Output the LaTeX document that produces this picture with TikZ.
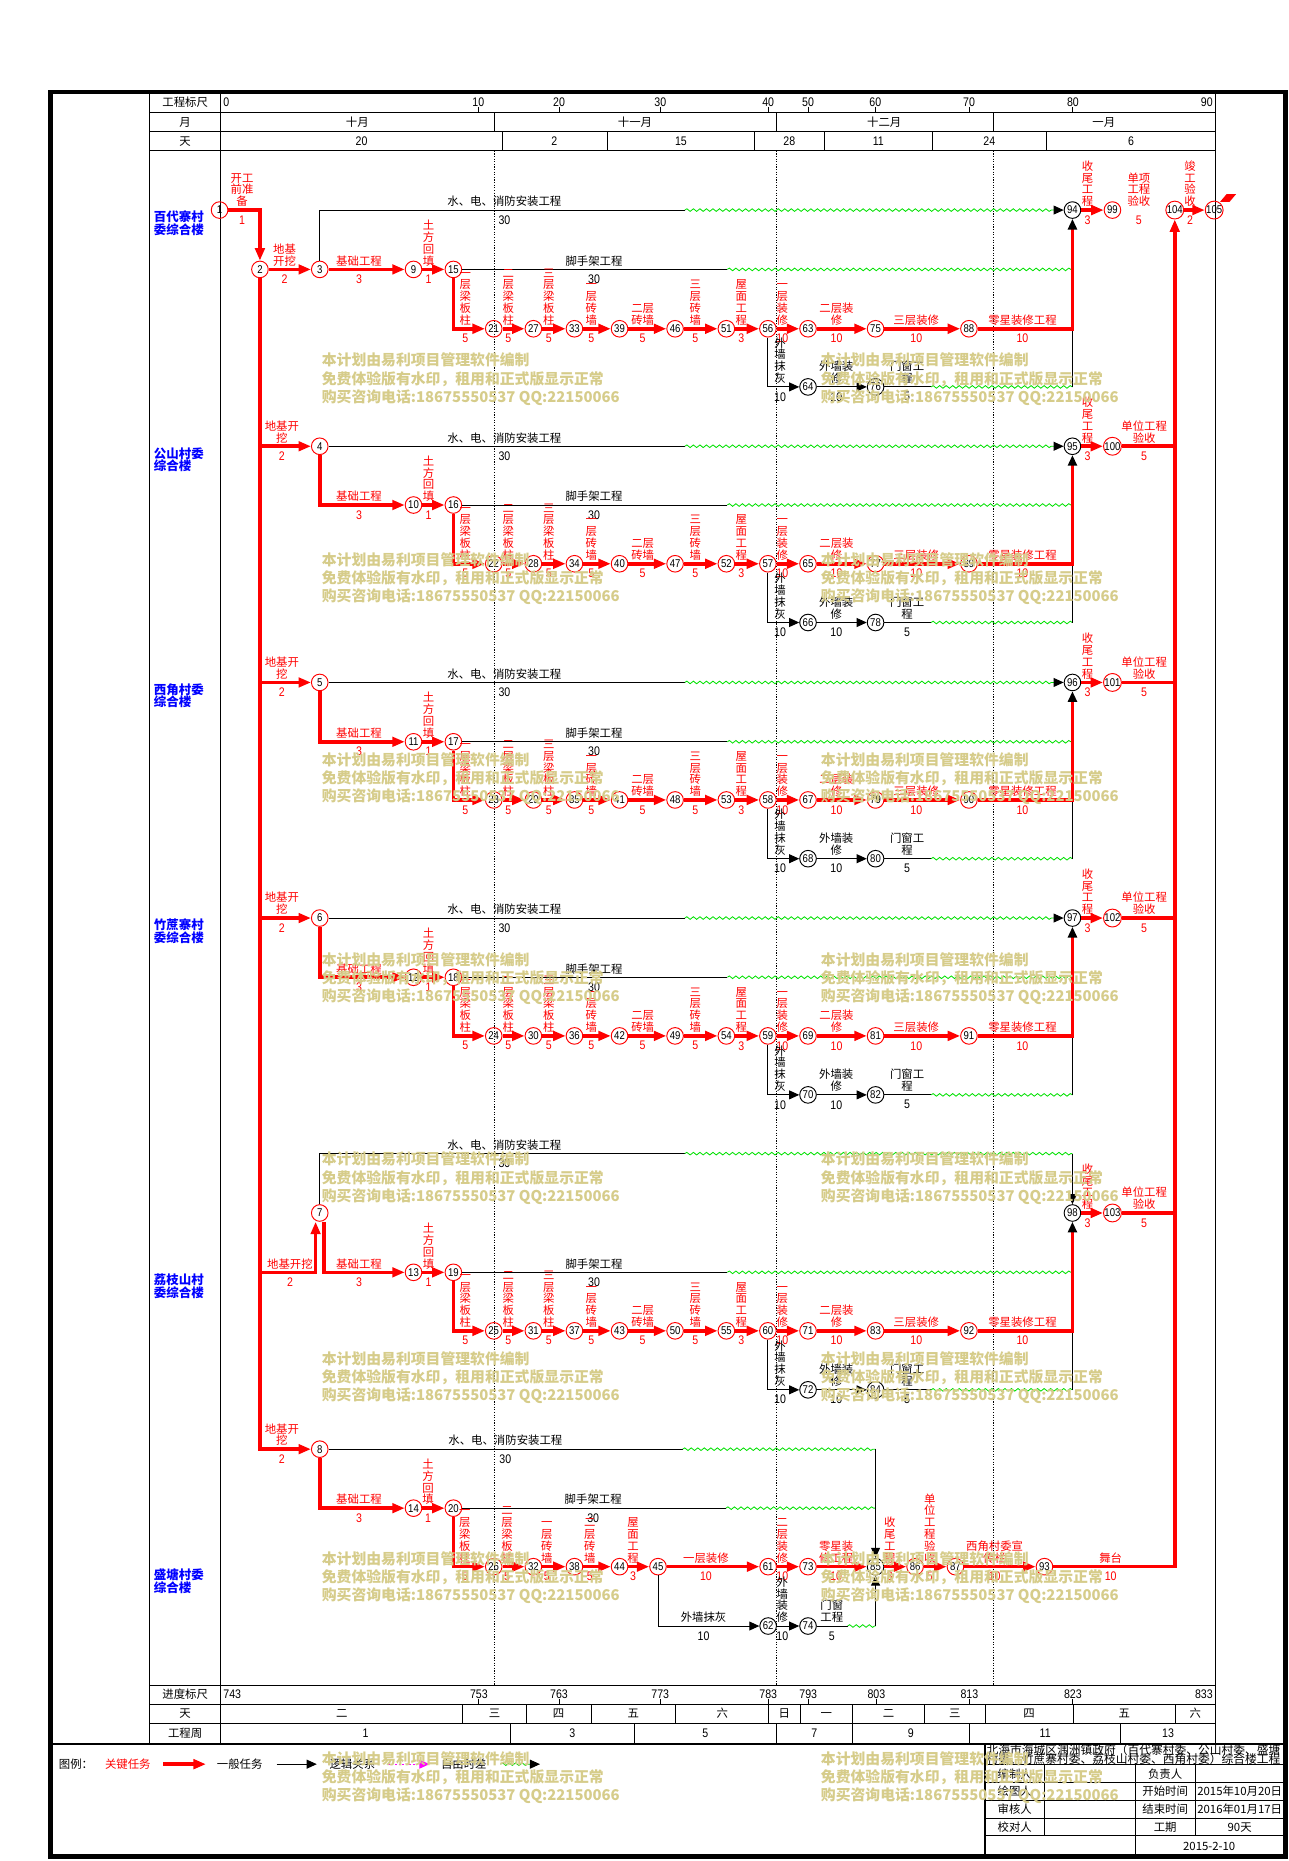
\documentclass[tikz,border=0pt]{standalone}
\usepackage{fontspec}
\setmainfont{Noto Sans CJK SC}
\newfontfamily\nrw[FakeStretch=0.85]{Liberation Sans}
\usetikzlibrary{arrows.meta,decorations.pathmorphing}
\definecolor{keyred}{RGB}{255,0,0}
\definecolor{slackgreen}{RGB}{0,225,0}
\definecolor{grpblue}{RGB}{0,0,255}
\definecolor{linkmag}{RGB}{255,0,255}
\definecolor{wmyellow}{RGB}{214,204,138}

\newcommand\labfont{\fontsize{9.6}{10}\selectfont}
\newcommand\durfont{\nrw\fontsize{10.5}{10.5}\selectfont}
\newcommand\nodefont{\nrw\fontsize{9.5}{9.5}\selectfont}

\tikzset{
  keynode/.style={circle,draw=keyred,line width=0.8pt,minimum size=14pt,inner sep=0pt,font=\nodefont},
  plainnode/.style={keynode,draw=black},
  keytask/.style={draw=keyred,line width=3pt,-{Triangle[length=10.5pt,width=8pt]}},
  keyline/.style={draw=keyred,line width=3pt},
  keyup/.style={keyline,-{Triangle[length=9pt,width=7.5pt,color=black]}},
  task/.style={draw=black,line width=0.85pt,-{Triangle[length=8.5pt,width=7.5pt]}},
  link/.style={draw=black,line width=0.85pt},
  slack/.style={draw=slackgreen,line width=0.7pt,decorate,decoration={snake,amplitude=1.1pt,segment length=5.5pt}},
  lab/.style={inner sep=0pt,text height=8.45pt,text depth=1.15pt,font=\labfont,text=keyred},
  dur/.style={inner sep=0pt,font=\durfont,text=keyred},
  hdr/.style={inner sep=0pt,text height=8.45pt,text depth=1.15pt,font=\labfont},
  hnum/.style={inner sep=0pt,font=\durfont},
  gline/.style={line width=0.8pt},
  bldg/.style={anchor=west,inner sep=0pt,text height=9.2pt,text depth=1.3pt,text=grpblue,font=\bfseries\fontsize{10.5}{10.5}\selectfont},
  wmtext/.style={anchor=west,inner sep=0pt,text height=11pt,text depth=1.5pt,text=wmyellow,font=\bfseries\fontsize{12.5}{12.5}\selectfont},
}

% task label: one node per line, last line just above the arrow
\newcommand\vlab[6][keyred]{%
  \edef\vlablist{#6}%
  \foreach \vch [count=\vk] in \vlablist
    {\node[lab,text=#1] (#2-\vk) at (#3,{#4-7.2-10*(#5-\vk)}) {\vch};}}

\newcommand\wmark[3]{%
  \node[wmtext] (#1a) at (#2,#3) {本计划由易利项目管理软件编制};
  \node[wmtext] (#1b) at (#2,{#3+15.3}) {免费体验版有水印，租用和正式版显示正常};
  \node[wmtext] (#1c) at (#2,{#3+30.6}) {购买咨询电话:18675550537 QQ:22150066};}

\begin{document}
\begin{tikzpicture}[x=1pt,y=-1pt]
  \useasboundingbox (0,0) rectangle (1086,1568);
  \fill[white] (0,0) rectangle (1086,1568);

  % frame and scales
  \draw[line width=4pt] (42.5,77.5) rectangle (1083,1564.5);
  \draw[gline] (126.3,77.5) -- (126.3,1469.3) (186,77.5) -- (186,1469.3) (1024,77.5) -- (1024,1469.3);
  \foreach \y in {94.6,110.9,127,1419.8,1435.8,1451.9} \draw[gline] (126.3,\y) -- (1024,\y);
  \draw[line width=1.6pt] (42.5,1469.3) -- (1083,1469.3);

  \node[hdr] (h1) at (156,85.7) {工程标尺};
  \node[hdr] (h2) at (156,102.7) {月};
  \node[hdr] (h3) at (156,118.9) {天};
  \node[hnum,anchor=west] (s0) at (188,85.7) {0};
  \foreach \x/\val in {403/10,471/20,556.3/30,647.2/40,680.8/50,737.5/60,816.5/70,904/80}
     {\draw[gline] (\x,90) -- (\x,94.6); \node[hnum] (s\val) at (\x,85.7) {\val};}
  \node[hnum,anchor=east] (s90) at (1022,85.7) {90};
  \foreach \x in {416.9,654,837} \draw[gline] (\x,94.6) -- (\x,110.9);
  \foreach \x/\mo [count=\i] in {301/十月,535/十一月,745/十二月,930/一月} \node[hdr] (m\i) at (\x,102.7) {\mo};
  \foreach \x in {423.2,511.5,635.8,694.5,785.5,881.6} \draw[gline] (\x,110.9) -- (\x,127);
  \foreach \x/\val in {304.6/20,467/2,573.7/15,665/28,740/11,833.5/24,953/6} \node[hnum] (dh\val) at (\x,118.9) {\val};

  \foreach \x in {416.9,654,837} \draw[line width=0.6pt,dash pattern=on 1pt off 1.2pt] (\x,127) -- (\x,1419.8);

  \node[hdr] (b1) at (156,1427.8) {进度标尺};
  \node[hdr] (b2) at (156,1443.8) {天};
  \node[hdr] (b3) at (156,1460.6) {工程周};
  \node[hnum,anchor=west] (p743) at (188,1427.2) {743};
  \foreach \x/\val in {403.5/753,471/763,556.3/773,647.3/783,681/793,738.4/803,816.8/813,904/823}
     {\draw[gline] (\x,1431.6) -- (\x,1435.8); \node[hnum] (p\val) at (\x,1427.2) {\val};}
  \node[hnum,anchor=east] (p833) at (1022,1427.2) {833};
  \foreach \x in {389.8,443.4,498,569.5,647.6,674.2,718.2,779,830,904.3,990.4} \draw[gline] (\x,1435.8) -- (\x,1451.9);
  \foreach \x/\mo [count=\i] in {288/二,416.6/三,470.7/四,533.7/五,608.5/六,660.9/日,696.2/一,748.6/二,804.5/三,867.1/四,947.3/五,1007.2/六}
     \node[hdr] (wd\i) at (\x,1443.8) {\mo};
  \foreach \x in {430,534.4,654,718.2,816.8,944.4} \draw[gline] (\x,1451.9) -- (\x,1469.3);
  \foreach \x/\val in {308/1,482.2/3,594.2/5,686.1/7,767.5/9,880.6/11,984.2/13} \node[hnum] (wk\val) at (\x,1460.6) {\val};

  % building names
  \foreach \y/\ta/\tb [count=\i] in {183/百代寨村/委综合楼,382/公山村委/综合楼,581/西角村委/综合楼,779.5/竹蔗寨村/委综合楼,1078.4/荔枝山村/委综合楼,1327/盛塘村委/综合楼}
     {\node[bldg] (bn\i-a) at (129.5,\y) {\ta}; \node[bldg] (bn\i-b) at (129.5,\y+10.5) {\tb};}

  % start and finish
  \node[keynode] (n1) at (185,177) {1};
  \node[keynode] (n2) at (219,227) {2};
  \node[keynode] (n3) at (269.4,227) {3};
  \node[keynode] (n104) at (989.8,177) {104};
  \node[keynode] (n105) at (1023,177) {105};
  \draw[keytask] (n1) -| (n2);
  \draw[keytask] (n2) -- (n3);
  \draw[keytask] (n104) -- (n105);
  \fill[keyred] (1028,170) -- (1036,170) -- (1041.5,163.5) -- (1033.5,163.5) -- cycle;
  \vlab{t1s}{204}{177}{3}{开工,前准,备}
  \node[dur] (d1s) at (204,185.3) {1};
  \vlab{t1e}{239.8}{227}{2}{地基,开挖}
  \node[dur] (d1e) at (239.8,235.3) {2};
  \vlab{t1v}{1002.6}{177}{4}{竣,工,验,收}
  \node[dur] (d1v) at (1002.6,185.3) {2};

  % five buildings with the same chain
  \foreach \g/\yw/\yt/\yb/\yc/\yd in {1/177/177/227/277/326,2/376/376/425.5/475/524.5,3/575/575/625/674/723.5,4/773.5/773.5/823.4/872.8/922.5,5/972/1022/1072/1121.3/1171}
  {
    \pgfmathtruncatemacro\nB{8+\g}
    \pgfmathtruncatemacro\nF{14+\g}
    \pgfmathtruncatemacro\nC{20+\g}
    \pgfmathtruncatemacro\nM{55+\g}
    \pgfmathtruncatemacro\nW{62+2*\g}
    \pgfmathtruncatemacro\nX{74+2*\g}
    \pgfmathtruncatemacro\nZ{87+\g}
    \pgfmathtruncatemacro\nT{93+\g}
    \pgfmathtruncatemacro\nU{98+\g}
    \node[keynode] (n\nB) at (348.4,\yb) {\nB};
    \node[keynode] (n\nF) at (382,\yb) {\nF};
    \draw[keytask] (n\nB) -- (n\nF);
    \foreach \k/\x/\base/\m in {1/416/20/1,2/449.4/26/1,3/484/32/1,4/522/38/1,5/568.8/45/1,6/612/50/1,7/647/55/1,8/680.8/61/2,9/737.7/73/2,10/816.4/87/1}
       {\pgfmathtruncatemacro\nn{\base+\m*\g}
        \node[keynode] (n\nn) at (\x,\yc) {\nn};
        \ifnum\k>1 \draw[keytask] (n\prevnode) -- (n\nn);\fi
        \global\let\prevnode\nn}
    \draw[keytask] (n\nF) |- (n\nC);
    \node[plainnode] (n\nW) at (680.8,\yd) {\nW};
    \node[plainnode] (n\nX) at (737.7,\yd) {\nX};
    \node[plainnode] (n\nT) at (903.6,\yt) {\nT};
    \node[keynode] (n\nU) at (937.3,\yt) {\nU};
    \draw[task] (n\nM) |- (n\nW);
    \draw[task] (n\nW) -- (n\nX);
    \coordinate (xa\g) at (784.5,\yd);
    \coordinate (xb\g) at (903.6,\yd);
    \coordinate (xc\g) at (903.6,\yc);
    \draw[link] (n\nX) -- (xa\g);
    \draw[slack] (xa\g) -- (xb\g);
    \draw[link] (xb\g) -- (xc\g);
    \coordinate (ya\g) at (612.8,\yb);
    \coordinate (yb\g) at (903.6,\yb);
    \draw[link] (n\nF) -- (ya\g);
    \draw[slack] (ya\g) -- (yb\g);
    \draw[keyup] (n\nZ) -| (n\nT);
    \draw[keytask] (n\nT) -- (n\nU);
    \ifnum\g>1 \draw[keyline] (n\nU) -- (n104 |- n\nU);\fi
    \vlab{tla\g}{302.5}{\yb}{1}{基础工程}
    \node[dur] (dua\g) at (302.5,\yb+8.3) {3};
    \vlab{tlb\g}{361}{\yb}{4}{土,方,回,填}
    \node[dur] (dub\g) at (361,\yb+8.3) {1};
    \vlab[black]{tlc\g}{500.5}{\yb}{1}{脚手架工程}
    \node[dur,text=black] (duc\g) at (500.5,\yb+8.3) {30};
    \vlab[black]{tld\g}{425}{\yw}{1}{水、电、消防安装工程}
    \node[dur,text=black] (dud\g) at (425,\yw+8.3) {30};
    \vlab{tle\g}{916.4}{\yt}{4}{收,尾,工,程}
    \node[dur] (due\g) at (916.4,\yt+8.3) {3};
    \ifnum\g=1
      \vlab{tlf\g}{959.6}{\yt}{3}{单项,工程,验收}
      \node[dur] (duf\g) at (959.6,\yt+8.3) {5};
    \else
      \vlab{tlf\g}{964}{\yt}{2}{单位工程,验收}
      \node[dur] (duf\g) at (964,\yt+8.3) {5};
    \fi
    \foreach \j/\x/\nln/\txt/\dr in {0/392/5/{一,层,梁,板,柱}/5,1/428.2/5/{二,层,梁,板,柱}/5,2/462.4/5/{三,层,梁,板,柱}/5,3/498.2/4/{一,层,砖,墙}/5,4/541.5/2/{二层,砖墙}/5,5/585.8/4/{三,层,砖,墙}/5,6/624.7/4/{屋,面,工,程}/3,7/659.2/4/{一,层,装,修}/10,8/704.8/2/{二层装,修}/10,9/772/1/{三层装修}/10,10/861.5/1/{零星装修工程}/10}
       {\vlab{tc\g-\j}{\x}{\yc}{\nln}{\txt}
        \node[dur] (duc\g-\j) at (\x,\yc+8.3) {\dr};}
    \foreach \j/\x/\nln/\txt/\dr in {0/657.3/4/{外,墙,抹,灰}/10,1/704.6/2/{外墙装,修}/10,2/764.3/2/{门窗工,程}/5}
       {\vlab[black]{td\g-\j}{\x}{\yd}{\nln}{\txt}
        \node[dur,text=black] (dud\g-\j) at (\x,\yd+8.3) {\dr};}
  }

  % foundations of the buildings
  \draw[keytask] (n3) -- (n9);
  \coordinate (za3) at (577,177);
  \coordinate (zb3) at (888,177);
  \draw[link] (n3) |- (za3);
  \draw[slack] (za3) -- (zb3);
  \draw[task] (zb3) -- (n94);
  \foreach \na/\y in {4/376,5/575,6/773.5}
  {
    \pgfmathtruncatemacro\nB{\na+6}
    \pgfmathtruncatemacro\nT{\na+91}
    \node[keynode] (n\na) at (269.4,\y) {\na};
    \coordinate (j\na) at (n2 |- n\na);
    \draw[keytask] (j\na) -- (n\na);
    \draw[keytask] (n\na) |- (n\nB);
    \coordinate (za\na) at (577,\y);
    \coordinate (zb\na) at (888,\y);
    \draw[link] (n\na) -- (za\na);
    \draw[slack] (za\na) -- (zb\na);
    \draw[task] (zb\na) -- (n\nT);
    \vlab{tlg\na}{237.5}{\y}{2}{地基开,挖}
    \node[dur] (dug\na) at (237.5,\y+8.3) {2};
  }
  \node[keynode] (n7) at (269.4,1022) {7};
  \coordinate (j7) at (n2 |- n13);
  \draw[keytask] (j7) -| ([xshift=-3.5pt]n7.south);
  \draw[keytask] ([xshift=3.5pt]n7.south) |- (n13);
  \coordinate (za7) at (577,972);
  \coordinate (zb7) at (903.6,972);
  \draw[link] (n7) |- (za7);
  \draw[slack] (za7) -- (zb7);
  \draw[task] (zb7) -- (n98);
  \vlab{tlg7}{244.3}{1072}{1}{地基开挖}
  \node[dur] (dug7) at (244.3,1080.3) {2};

  % 盛塘村委综合楼
  \node[keynode] (n8) at (269.4,1221) {8};
  \node[keynode] (n14) at (348.4,1270.7) {14};
  \node[keynode] (n20) at (382,1270.7) {20};
  \draw[keytask] (n2) |- (n8);
  \draw[keytask] (n8) |- (n14);
  \draw[keytask] (n14) -- (n20);
  \foreach \nn/\x in {26/416,32/449.4,38/484,44/522,45/554.4,61/647.2,73/680.8,86/771,87/805,93/880}
     \node[keynode] (n\nn) at (\x,1320) {\nn};
  \node[plainnode] (n85) at (737.7,1320) {85};
  \node[plainnode] (n62) at (647.2,1370) {62};
  \node[plainnode] (n74) at (680.8,1370) {74};
  \draw[keytask] (n20) |- (n26);
  \foreach \a/\b in {26/32,32/38,38/44,44/45,45/61,61/73,73/85,85/86,86/87,87/93}
     \draw[keytask] (n\a) -- (n\b);
  \draw[keytask] (n93) -| (n104);
  \draw[task] (n45) |- (n62);
  \draw[task] (n62) -- (n74);
  \coordinate (xa6) at (714.2,1370);
  \coordinate (xb6) at (737.7,1370);
  \draw[link] (n74) -- (xa6);
  \draw[slack] (xa6) -- (xb6);
  \draw[task] (xb6) -- (n85);
  \coordinate (ya6) at (611.6,1270.7);
  \coordinate (yb6) at (737.7,1270.7);
  \draw[link] (n20) -- (ya6);
  \draw[slack] (ya6) -- (yb6);
  \coordinate (za8) at (575.2,1221);
  \coordinate (zb8) at (737.7,1221);
  \draw[link] (n8) -- (za8);
  \draw[slack] (za8) -- (zb8);
  \draw[task] (zb8) -- (n85);
  \vlab{tlg8}{237.5}{1221}{2}{地基开,挖}
  \node[dur] (dug8) at (237.5,1229.3) {2};
  \vlab{tla6}{302.5}{1270.7}{1}{基础工程}
  \node[dur] (dua6) at (302.5,1279) {3};
  \vlab{tlb6}{360.6}{1270.7}{4}{土,方,回,填}
  \node[dur] (dub6) at (360.6,1279) {1};
  \vlab[black]{tlc6}{499.8}{1270.7}{1}{脚手架工程}
  \node[dur,text=black] (duc6) at (499.8,1279) {30};
  \vlab[black]{tld6}{425.8}{1221}{1}{水、电、消防安装工程}
  \node[dur,text=black] (dud6) at (425.8,1229.3) {30};
  \foreach \j/\x/\nln/\txt/\dr in {0/391.7/5/{一,层,梁,板,柱}/5,1/427.2/5/{二,层,梁,板,柱}/5,2/460.7/4/{一,层,砖,墙}/5,3/497/4/{二,层,砖,墙}/5,4/533.3/4/{屋,面,工,程}/3,5/594.8/1/{一层装修}/10,6/659.2/4/{二,层,装,修}/10,7/704.5/2/{零星装,修工程}/10,8/749.8/4/{收,尾,工,程}/3,9/783.5/6/{单,位,工,程,验,收}/5,10/838/2/{西角村委宣,传栏}/10,11/935.8/1/{舞台}/10}
     {\vlab{tc6-\j}{\x}{1320}{\nln}{\txt}
      \node[dur] (duc6-\j) at (\x,1328.3) {\dr};}
  \foreach \j/\x/\nln/\txt/\dr in {0/592.8/1/{外墙抹灰}/10,1/659.2/4/{外,墙,装,修}/10,2/700.8/2/{门窗,工程}/5}
     {\vlab[black]{td6-\j}{\x}{1370}{\nln}{\txt}
      \node[dur,text=black] (dud6-\j) at (\x,1378.3) {\dr};}

  % legend
  \node[hdr] (lg0) at (64,1486.4) {图例：};
  \node[hdr,text=keyred] (lg1) at (107.7,1486.4) {关键任务};
  \coordinate (la1) at (137.7,1486.4);
  \coordinate (lb1) at (173.5,1486.4);
  \draw[keytask] (la1) -- (lb1);
  \node[hdr] (lg2) at (202,1486.4) {一般任务};
  \coordinate (la2) at (233,1486.4);
  \coordinate (lb2) at (266.9,1486.4);
  \draw[task] (la2) -- (lb2);
  \node[hdr] (lg3) at (296.9,1486.4) {逻辑关系};
  \coordinate (la3) at (326.9,1486.4);
  \coordinate (lb3) at (361.8,1486.4);
  \draw[draw=linkmag,line width=0.8pt,dash pattern=on 1.5pt off 1.5pt,-{Triangle[length=8.5pt,width=7.5pt]}] (la3) -- (lb3);
  \node[hdr] (lg4) at (390.8,1486.4) {自由时差};
  \coordinate (la4) at (421.7,1486.4);
  \coordinate (lb4) at (446.8,1486.4);
  \coordinate (lc4) at (455,1486.4);
  \draw[slack] (la4) -- (lb4);
  \draw[task] (lb4) -- (lc4);

  % title block
  \draw[line width=1.6pt] (829.7,1469.3) -- (829.7,1564.5);
  \foreach \y in {1487,1501.8,1517,1532,1546.8} \draw[gline] (829.7,\y) -- (1083,\y);
  \draw[gline] (880.3,1487) -- (880.3,1546.8) (956.3,1487) -- (956.3,1564.5) (1007,1487) -- (1007,1546.8);
  \begin{scope}
    \clip (830.6,1470.2) rectangle (1081,1486.6);
    \node[hdr,anchor=west,font=\fontsize{9.9}{9.9}\selectfont] (ttl1) at (831,1474.2) {北海市海城区涠洲镇政府（百代寨村委、公山村委、盛塘};
    \node[hdr,anchor=west,font=\fontsize{9.9}{9.9}\selectfont] (ttl2) at (831,1482.6) {村委、竹蔗寨村委、荔枝山村委、西角村委）综合楼工程};
  \end{scope}
  \foreach \y/\ca/\cb/\cc [count=\i] in {1494.4/编制人/负责人/{},1509.4/绘图人/开始时间/2015年10月20日,1524.5/审核人/结束时间/2016年01月17日,1539.4/校对人/工期/90天}
     {\node[hdr] (ca\i) at (855,\y) {\ca};
      \node[hdr] (cb\i) at (981.7,\y) {\cb};
      \node[hdr] (cc\i) at (1044.5,\y) {\cc};}
  \node[hdr] (cdate) at (1018.8,1555.7) {2015-2-10};

  % trial version marks
  \foreach \y [count=\i] in {303.5,471.8,640.1,808.4,976.7,1145,1313.3,1481.6}
     {\wmark{wl\i}{271}{\y} \wmark{wr\i}{691.5}{\y}}
\end{tikzpicture}
\end{document}
